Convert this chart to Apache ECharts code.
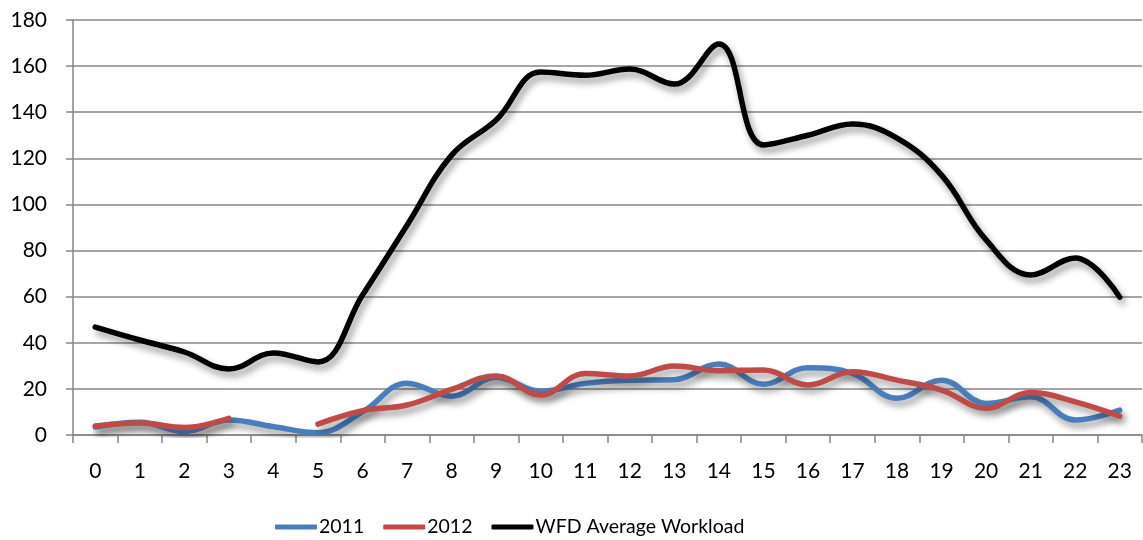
<!DOCTYPE html>
<html>
<head>
<meta charset="utf-8">
<script src="https://cdn.jsdelivr.net/npm/echarts@6/dist/echarts.min.js"></script>
<style>
html, body { margin: 0; padding: 0; background: #fff; }
#main { width: 1143px; height: 540px; }
</style>
</head>
<body>
<div id="main"></div>
<script>
// hours of the day
var hours = ['0','1','2','3','4','5','6','7','8','9','10','11','12','13','14','15','16','17','18','19','20','21','22','23'];

var data2011 = [3.5, 5.5, 1.5, 6.5, 3.6, 1, 10, 22.5, 16.8, 25, 19, 22.4, 23.8, 24, 30.8, 22, 29.2, 26.7, 15.9, 23.8, 13.7, 16.6, 6.5, 10.8];
var data2012 = [3.9, 5.2, 3.2, 7.2, null, 4.7, 10.5, 13, 19.8, 25.6, 17.3, 26.7, 25.6, 29.9, 27.9, 28.2, 21.7, 27.4, 23.8, 19.5, 11.6, 18.4, 14.4, 8.2];
var dataWfd = [46.8, 41.2, 36, 28.6, 35.6, 31.7, 60.7, 91, 121.4, 136.6, 157.4, 156, 158.7, 152.2, 169.6, 125.8, 130, 134.9, 128.8, 112.7, 84.6, 69.4, 76.8, 59.8];

var yTicks = { min: 0, max: 180, interval: 20 };

var myChart = echarts.init(document.getElementById('main'));

var font = 'Lato, "Open Sans", sans-serif';

function makeSeries(name, values, color)
{
    return {
        name: name,
        type: 'line',
        data: values,
        smooth: 0.4,
        showSymbol: false,
        connectNulls: false,
        animation: false,
        lineStyle: {
            color: color,
            width: 5.5,
            cap: 'round',
            shadowColor: 'rgba(0,0,0,0.4)',
            shadowBlur: 7,
            shadowOffsetX: 3,
            shadowOffsetY: 5
        },
        itemStyle: { color: color }
    };
}

var option = {
    animation: false,
    grid: {
        left: 73,
        right: 1,
        top: 20,
        bottom: 105,
        containLabel: false
    },
    legend: {
        top: 512,
        left: 270,
        icon: 'roundRect',
        itemWidth: 42,
        itemHeight: 5,
        itemGap: 19,
        textStyle: {
            fontFamily: font,
            fontSize: 19.5,
            color: '#000',
            padding: [0, 0, 0, -3]
        },
        data: ['2011', '2012', 'WFD Average Workload']
    },
    xAxis: {
        type: 'category',
        data: hours,
        boundaryGap: true,
        axisLine: { lineStyle: { color: '#868686', width: 1.5 } },
        axisTick: { show: true, length: 8, lineStyle: { color: '#868686', width: 1.5 } },
        axisLabel: {
            fontFamily: font,
            fontSize: 21,
            color: '#000',
            margin: 26
        },
        splitLine: { show: false }
    },
    yAxis: {
        type: 'value',
        min: yTicks.min,
        max: yTicks.max,
        interval: yTicks.interval,
        axisLine: { show: true, lineStyle: { color: '#868686', width: 1.5 } },
        axisTick: { show: true, length: 7, lineStyle: { color: '#868686', width: 1.5 } },
        axisLabel: {
            fontFamily: font,
            fontSize: 21,
            color: '#000',
            margin: 26
        },
        splitLine: { show: true, lineStyle: { color: '#878787', width: 1.5 } }
    },
    series: [
        makeSeries('2011', data2011, '#4A7EBB'),
        makeSeries('2012', data2012, '#BE4B48'),
        makeSeries('WFD Average Workload', dataWfd, '#000000')
    ]
};

myChart.setOption(option);
</script>
</body>
</html>
